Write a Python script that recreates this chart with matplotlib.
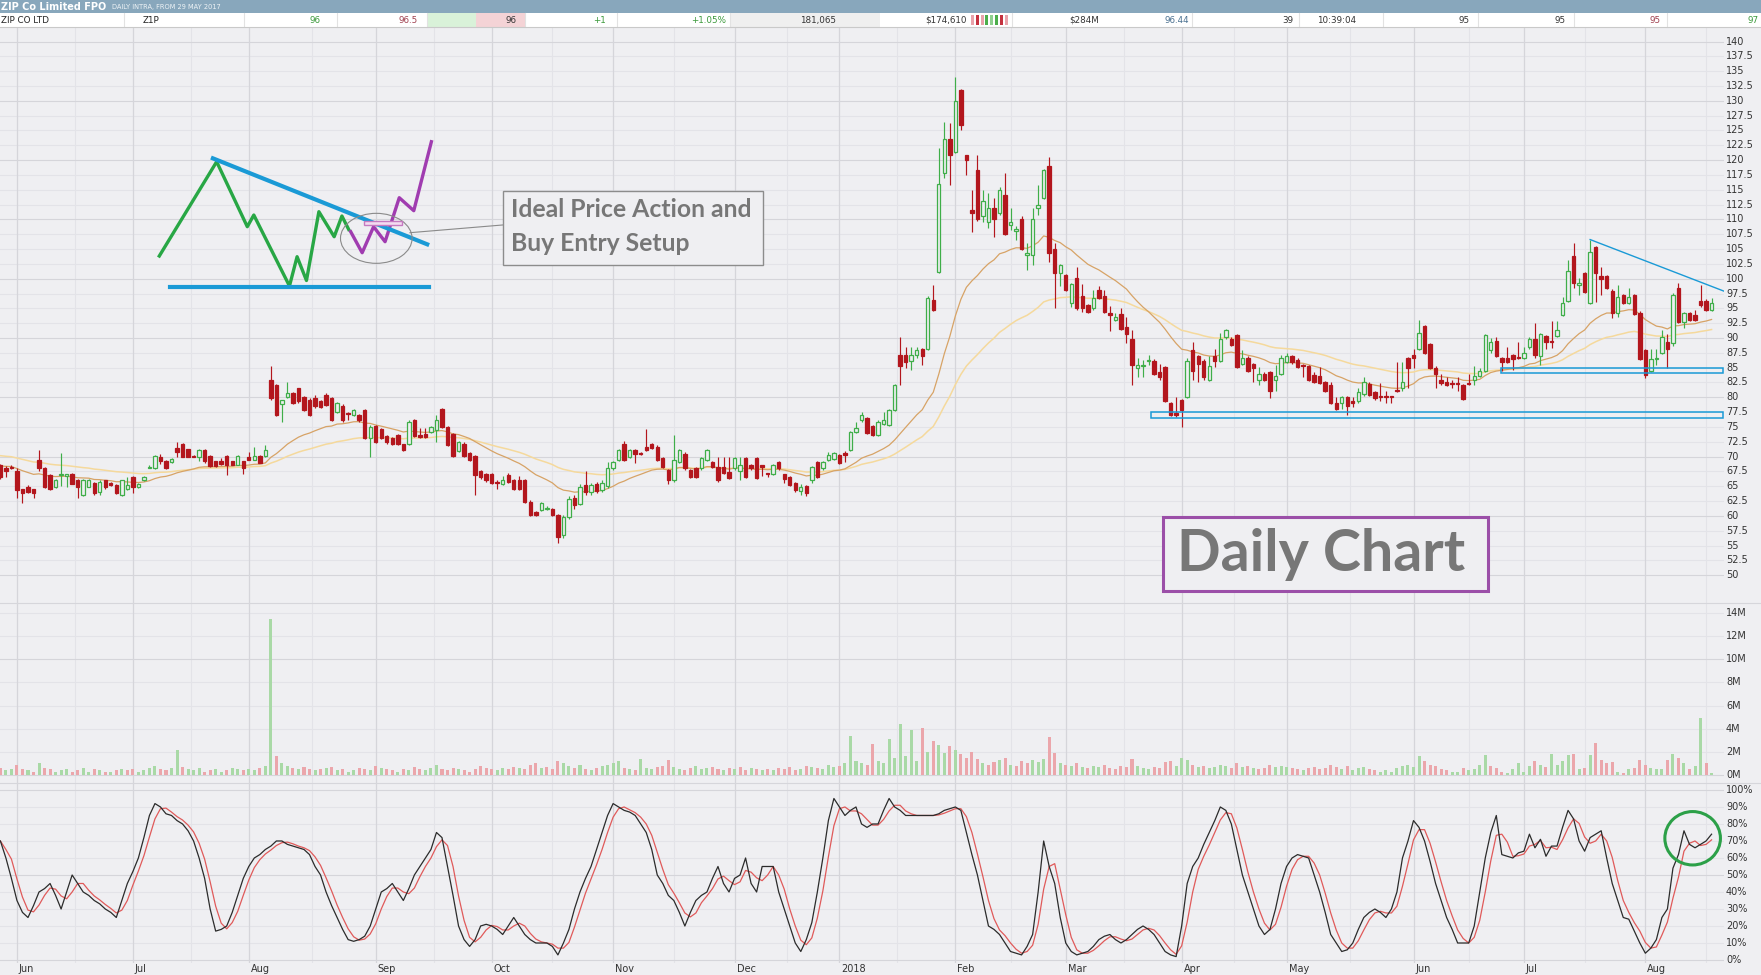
import matplotlib
matplotlib.use("Agg")
import matplotlib.pyplot as plt
import matplotlib.transforms as mtransforms
from matplotlib.patches import Rectangle, Ellipse
import numpy as np
import pandas as pd

W, H, DPI = 1761, 975, 100
BG = "#efeff2"

# ---------------------------------------------------------------- data
opens = [
    68.6,68.0,68.2,67.6,64.5,64.9,64.5,69.5,68.0,66.9,
    64.9,66.9,66.8,67.0,66.0,63.5,64.9,65.6,64.0,66.0,
    65.6,65.2,63.5,64.5,66.6,64.9,66.0,68.0,68.0,69.9,
    69.2,69.1,71.4,72.1,71.2,70.1,70.0,71.1,70.1,69.2,
    69.3,70.1,69.2,68.6,69.2,70.0,69.5,70.1,70.1,83.0,
    82.1,78.9,80.1,80.7,81.5,80.1,79.6,79.8,79.3,80.4,
    79.8,77.6,78.5,77.4,77.0,77.0,77.9,73.1,75.2,74.6,
    73.5,73.1,73.6,72.1,72.1,76.1,73.7,73.8,74.2,74.5,
    78.0,75.0,73.8,71.0,72.2,70.6,70.1,67.5,67.0,67.0,
    65.8,65.4,66.9,66.0,66.0,66.0,62.4,60.7,61.0,61.2,
    61.1,60.2,56.8,59.8,63.0,62.0,65.2,64.0,65.4,64.3,
    65.0,68.0,69.4,72.1,70.0,71.1,70.6,71.7,72.1,71.7,
    69.7,67.7,66.1,69.1,70.5,67.7,68.0,68.0,69.4,69.1,
    68.3,68.3,67.4,68.0,67.5,69.7,68.5,69.7,68.5,67.2,
    67.1,69.1,67.0,66.5,65.5,64.2,65.0,66.1,69.1,68.0,
    69.4,69.6,70.3,70.6,71.1,74.2,76.1,76.5,75.1,73.6,
    75.5,75.3,77.9,87.1,87.1,86.1,87.1,88.1,88.1,96.4,
    101.2,117.8,123.5,121.4,131.9,120.9,111.6,118.4,110.6,109.6,
    112.0,111.0,114.1,109.1,108.0,110.0,104.0,104.0,112.0,113.6,
    119.0,105.0,101.0,100.6,95.9,100.1,97.0,95.6,95.0,98.1,
    97.1,94.2,93.0,94.0,91.9,89.9,85.0,85.2,86.1,86.2,
    84.2,85.1,79.0,77.4,79.5,80.1,88.0,86.9,86.2,83.0,
    87.0,86.2,90.1,89.9,90.5,85.6,86.7,85.6,83.0,84.0,
    84.2,83.0,83.9,86.0,87.0,86.3,85.4,85.2,83.8,83.6,
    82.5,82.1,79.0,79.0,80.0,79.3,79.4,80.5,82.2,80.9,
    80.2,80.1,80.1,81.3,81.5,86.6,87.1,88.1,92.0,89.0,
    84.9,83.0,82.6,82.3,82.3,82.1,82.4,82.9,83.6,84.5,
    88.0,89.5,86.6,86.6,87.1,86.7,86.6,88.4,89.9,87.0,
    90.3,89.4,90.3,93.9,96.3,103.9,98.9,101.0,95.9,105.4,
    100.5,100.5,98.0,94.3,97.3,95.9,97.3,94.3,87.9,84.5,
    86.4,87.5,89.3,89.1,98.4,92.7,94.2,93.9,96.3,96.3,94.8]

highs = [
    68.8,68.4,68.6,68.0,64.6,65.2,64.6,71.1,68.3,67.1,
    66.3,70.6,67.1,67.2,66.2,66.2,66.3,65.8,66.0,66.1,
    65.8,65.4,66.1,66.6,66.8,65.6,66.7,68.6,70.2,70.5,
    69.4,69.7,72.5,72.3,71.3,70.2,71.2,71.3,70.2,69.3,
    69.8,70.3,69.3,70.2,69.3,70.8,71.7,70.3,72.0,85.2,
    82.3,79.6,82.6,80.9,81.6,80.3,79.8,80.4,79.5,80.7,
    80.1,79.2,78.8,77.6,78.1,77.2,78.1,75.3,75.4,74.8,
    73.6,73.3,73.8,72.2,76.1,76.3,74.9,74.9,75.2,77.0,
    78.2,75.2,74.0,72.7,72.4,70.8,70.3,67.7,67.2,67.2,
    66.0,66.8,67.2,66.2,66.8,66.2,62.6,60.9,62.3,61.6,
    61.3,60.4,60.2,63.3,63.6,65.3,67.5,65.6,65.8,66.0,
    69.1,69.3,71.3,72.6,71.3,71.3,70.8,74.6,72.3,71.9,
    69.9,67.9,73.6,71.3,70.7,67.9,68.2,69.9,71.3,69.3,
    70.0,70.0,70.0,69.9,70.0,69.9,68.7,69.9,68.6,67.3,
    68.7,69.3,67.1,66.8,65.8,65.3,65.2,68.4,69.3,69.3,
    70.8,70.8,70.5,71.0,74.4,75.9,77.6,76.7,75.3,76.1,
    77.6,78.1,82.3,90.1,88.5,88.5,88.4,88.3,97.0,99.0,
    122.0,126.5,126.2,134.1,132.0,120.9,115.0,120.9,115.0,114.4,
    113.6,115.5,117.9,112.0,108.9,110.5,106.0,112.0,115.8,118.5,
    120.5,106.0,102.5,100.8,99.3,102.0,99.1,95.8,98.1,98.7,
    98.1,95.4,94.2,95.0,93.6,91.4,86.6,86.3,87.1,86.4,
    85.7,85.3,79.2,80.0,79.7,86.6,89.4,87.1,86.4,87.0,
    88.1,90.9,91.5,90.1,90.7,88.0,86.9,85.8,85.1,84.2,
    84.4,85.5,87.1,87.5,87.2,86.6,85.6,85.4,84.2,85.1,
    82.7,82.6,80.1,80.2,80.2,80.0,81.5,83.5,82.6,81.1,
    82.4,81.0,80.2,86.0,86.0,86.8,88.1,93.0,92.2,89.2,
    85.2,84.0,83.5,83.0,83.5,82.3,84.0,85.2,84.9,90.7,
    90.0,90.1,86.8,88.5,87.3,89.4,88.5,90.1,92.5,90.9,
    90.5,92.9,92.9,96.9,103.2,106.0,100.2,101.2,106.6,105.6,
    101.9,100.7,98.2,98.9,97.5,98.5,97.5,94.5,88.1,88.1,
    88.1,91.3,90.7,97.6,99.3,94.4,94.4,94.8,98.9,96.5,96.7]

lows = [
    66.3,66.6,67.9,63.0,62.1,63.9,63.0,67.5,64.7,64.3,
    64.7,65.0,64.9,65.3,63.0,63.4,64.8,63.6,63.6,64.6,
    65.0,63.7,63.4,64.4,63.9,64.7,65.9,68.0,67.9,68.8,
    67.9,69.0,70.0,69.9,69.9,69.9,69.2,69.0,68.2,68.3,
    68.5,66.9,68.5,68.5,67.0,69.4,69.4,68.9,70.0,79.6,
    76.8,75.9,79.9,78.8,79.1,77.7,76.9,78.2,78.2,78.5,
    76.0,77.3,75.9,76.1,76.8,75.9,72.9,70.0,72.3,72.9,
    72.2,72.0,72.0,70.9,71.9,73.3,73.1,73.1,74.0,72.5,
    74.8,71.8,69.9,70.8,69.9,69.3,63.5,66.3,65.8,65.3,
    64.6,65.2,65.6,64.3,64.3,62.2,60.0,60.0,60.9,61.0,
    60.0,55.5,56.2,59.5,61.2,61.8,63.6,63.5,63.9,64.0,
    64.7,67.8,69.2,69.2,69.8,68.9,70.3,70.9,71.2,69.2,
    68.1,65.3,65.8,68.9,67.8,66.4,66.4,67.8,69.2,68.1,
    65.8,67.0,66.2,67.8,66.0,66.4,67.8,66.2,66.8,66.5,
    66.9,67.8,65.6,65.0,64.0,63.5,63.3,65.5,66.4,67.8,
    69.2,69.4,68.7,69.1,70.9,74.0,75.9,73.8,73.5,73.4,
    75.3,75.1,77.7,82.1,84.9,84.6,86.7,85.4,87.9,94.5,
    101.0,117.0,115.8,121.2,125.1,117.5,107.9,109.8,109.6,108.5,
    107.1,110.8,107.3,108.2,106.5,104.8,101.5,102.3,110.7,113.4,
    102.9,95.0,98.7,97.9,95.3,94.8,94.4,94.2,94.8,96.5,
    94.2,91.1,92.8,91.3,89.1,82.1,83.5,83.5,85.5,83.8,
    82.9,79.2,76.8,76.7,75.0,79.9,82.9,82.6,82.9,82.8,
    85.1,86.0,89.9,88.6,84.9,85.4,84.3,82.6,82.1,82.7,
    79.8,81.0,83.7,85.8,85.7,84.9,83.5,82.8,82.4,82.2,
    80.9,78.8,77.9,78.1,77.0,78.4,79.0,80.3,80.2,79.6,
    79.4,79.0,79.0,80.9,81.0,81.5,84.9,87.9,87.3,84.7,
    81.5,82.1,81.9,81.5,81.0,79.5,82.1,82.1,83.4,84.3,
    87.4,86.8,84.4,85.8,84.6,86.4,86.4,88.2,86.6,85.5,
    88.2,88.3,90.1,93.7,96.1,98.5,97.2,97.6,95.7,96.0,
    97.2,98.2,93.3,93.6,95.7,95.7,93.9,86.3,83.3,84.3,
    85.5,87.3,84.9,88.6,92.5,91.7,92.9,92.9,95.3,94.6,94.6]

closes = [
    66.6,67.6,68.0,64.4,63.8,64.1,63.8,68.0,64.9,64.5,
    66.0,67.0,67.0,65.4,64.9,66.0,66.0,63.8,65.8,64.9,
    65.2,63.9,66.0,65.2,64.9,65.4,66.6,68.2,70.1,69.2,
    68.0,69.6,70.8,70.0,70.0,70.0,71.1,69.2,68.4,68.4,
    68.7,68.6,68.6,70.1,68.0,69.5,70.1,69.0,71.1,79.8,
    77.0,79.5,80.7,79.0,79.3,77.9,77.0,78.5,78.4,78.7,
    76.1,79.0,76.1,77.2,77.9,76.1,73.1,75.0,72.5,73.1,
    72.4,72.1,72.2,71.1,75.9,73.5,73.3,73.3,75.0,76.1,
    75.0,72.0,70.1,72.5,70.1,69.5,66.9,66.5,66.0,65.5,
    65.6,66.0,65.8,64.5,64.5,62.4,60.2,60.1,62.1,61.4,
    60.2,56.5,59.8,62.8,61.8,64.8,64.0,65.2,64.2,65.5,
    68.0,69.1,71.1,69.4,71.1,70.5,70.5,71.1,71.4,69.4,
    68.3,66.0,69.4,71.1,68.0,66.6,66.6,69.7,71.1,68.3,
    66.0,67.2,66.4,69.7,68.5,66.6,68.0,66.4,68.2,67.0,
    68.5,68.0,66.3,65.2,64.3,64.8,63.8,68.2,66.6,69.1,
    70.3,70.6,68.9,70.2,74.2,74.8,77.0,74.0,73.7,75.9,
    76.2,77.9,82.1,85.2,86.0,87.1,88.0,86.9,96.7,94.7,
    116.0,123.5,120.9,129.9,125.9,120.0,111.0,110.0,113.1,112.0,
    110.0,114.9,107.5,109.5,108.3,105.0,104.4,110.0,112.4,118.4,
    104.4,100.9,102.3,98.1,99.1,95.0,95.0,94.4,96.7,96.7,
    94.4,93.9,93.6,91.5,90.7,85.5,85.5,85.5,86.3,84.0,
    83.4,79.4,77.0,77.0,77.9,86.2,84.5,85.7,83.5,85.2,
    86.2,89.8,91.3,88.8,85.1,86.7,84.5,84.9,84.0,82.9,
    81.0,83.6,86.6,86.9,85.9,85.1,85.2,83.0,82.6,82.4,
    81.0,79.0,78.1,80.0,78.5,79.1,80.9,82.5,80.4,79.9,
    80.0,80.0,80.0,81.0,82.5,84.9,86.6,90.9,87.5,84.9,
    83.9,82.4,82.1,82.2,82.2,79.7,82.3,83.6,84.5,90.5,
    89.4,87.0,86.0,86.0,86.4,86.6,87.5,89.9,87.1,90.7,
    89.3,89.3,91.3,95.9,101.3,99.3,99.3,97.8,104.5,101.0,
    99.9,98.4,94.2,96.9,95.9,96.9,94.1,86.5,83.7,86.5,
    86.5,90.1,88.2,97.3,92.7,94.2,93.1,93.1,95.5,94.8,95.9]

volume_m = [
    0.6,0.4,0.5,0.9,0.5,0.4,0.3,1.0,0.6,0.5,0.3,0.4,0.5,0.3,0.4,0.6,0.3,0.5,0.4,0.3,0.3,0.4,0.5,0.4,
    0.5,0.3,0.4,0.6,0.8,0.5,0.4,0.6,2.2,0.7,0.5,0.4,0.6,0.3,0.4,0.5,0.3,0.4,0.6,0.5,0.4,
    0.5,0.4,0.6,0.8,13.5,1.6,1.0,0.8,0.6,0.5,0.7,0.5,0.4,0.5,0.6,0.7,0.4,0.5,0.3,0.4,0.6,0.5,0.4,
    0.8,0.6,0.5,0.4,0.3,0.5,0.4,0.7,0.5,0.4,0.6,0.9,0.5,0.4,0.6,0.5,0.4,0.3,0.5,0.8,0.6,
    0.5,0.4,0.6,0.5,0.7,0.6,0.5,0.9,1.0,0.6,0.7,0.5,1.2,1.0,0.8,0.6,0.9,0.5,0.4,0.6,0.8,0.9,
    1.0,1.2,0.6,0.5,0.4,1.4,0.6,0.5,0.7,0.8,1.3,0.7,0.5,0.4,0.6,0.8,0.5,0.6,0.7,0.5,0.4,0.6,
    0.5,0.7,0.4,0.6,0.5,0.4,0.5,0.4,0.6,0.5,0.7,0.4,0.5,0.8,0.7,0.6,0.5,0.9,0.7,
    0.8,1.0,3.4,1.2,1.0,0.9,2.7,1.2,1.0,3.1,1.5,4.4,1.6,3.9,1.2,4.1,2.0,2.9,2.6,1.9,2.5,
    2.2,1.8,1.5,2.0,1.4,1.0,0.9,1.1,1.3,1.5,0.9,0.8,1.2,1.0,1.3,1.1,1.4,3.3,1.9,1.0,
    0.9,0.8,1.0,0.7,0.6,0.8,0.7,0.9,0.6,0.5,0.8,0.7,1.4,0.8,0.6,0.5,0.7,0.6,1.1,1.2,0.8,
    1.5,1.3,0.9,0.7,0.8,0.6,0.7,0.9,0.8,0.6,1.0,0.7,0.8,0.6,0.5,0.6,0.9,0.7,0.8,
    0.7,0.6,0.5,0.4,0.6,0.7,0.5,0.6,0.9,0.7,0.5,0.8,0.4,0.6,0.7,0.5,0.4,0.3,0.4,0.3,0.6,0.8,0.9,
    0.7,1.6,1.2,0.9,0.8,0.5,0.4,0.3,0.3,0.6,0.4,0.5,0.9,1.7,0.8,0.6,0.3,0.2,0.5,1.0,
    0.3,0.8,1.2,0.9,0.7,1.8,0.9,1.2,1.7,1.8,0.5,0.6,1.7,2.8,1.3,1.0,1.1,0.3,0.2,0.5,0.6,1.3,
    0.9,0.6,0.5,0.5,1.3,1.8,1.5,1.0,0.5,0.8,4.9,1.0,0.2]

stoch_k = [
    70,60,48,35,28,25,32,40,42,45,
    38,30,40,50,45,40,38,35,33,30,
    28,25,35,45,52,60,72,85,92,90,
    86,85,82,80,76,70,60,48,30,17,
    18,20,28,38,48,55,60,62,65,67,
    70,70,68,67,66,65,62,55,50,40,
    32,25,18,12,11,12,14,20,30,40,
    42,45,40,35,42,50,55,60,65,75,
    72,55,38,20,12,8,12,20,21,20,
    18,15,20,25,20,15,12,10,10,10,
    8,3,10,18,30,40,48,55,65,75,
    85,92,90,88,87,85,80,75,65,50,
    45,38,35,28,20,28,35,38,40,48,
    55,45,40,48,50,60,45,40,55,55,
    55,40,30,20,10,5,12,22,40,60,
    82,95,90,85,88,90,80,78,80,80,
    88,95,90,88,85,85,85,85,85,85,
    86,88,89,90,88,75,62,50,35,20,
    18,15,10,5,4,3,8,15,40,70,
    55,45,25,10,5,3,4,5,8,12,
    14,15,12,10,12,15,18,20,18,15,
    10,5,3,2,20,45,55,60,68,75,
    82,90,88,80,65,50,40,30,20,15,
    18,30,45,55,60,62,61,60,50,40,
    28,15,10,5,6,10,18,25,28,30,
    28,25,30,40,60,70,82,78,70,58,
    45,35,25,18,10,10,10,20,40,60,
    75,85,62,61,60,63,64,74,66,71,
    61,67,67,78,88,83,70,64,72,74,
    76,60,45,35,25,24,17,10,4,7,
    12,25,30,54,62,76,68,66,68,70,74]

month_labels = ["Jun", "Jul", "Aug", "Sep", "Oct", "Nov", "Dec", "2018",
                "Feb", "Mar", "Apr", "May", "Jun", "Jul", "Aug"]
month_start = [3, 24, 45, 68, 89, 111, 133, 152, 173, 193, 214, 233, 256, 276, 298]

price_ticks = [50 + 2.5 * k for k in range(37)]
volume_ticks = [0, 2, 4, 6, 8, 10, 12, 14]
stoch_ticks = [0, 10, 20, 30, 40, 50, 60, 70, 80, 90, 100]

# moving averages seeded with the values visible at the left edge
ma_fast_span, ma_fast_seed = 22, 68.6
ma_slow_span, ma_slow_seed = 50, 70.3

header_cells = [  # (x, text, color, align)
    (1, "ZIP CO LTD", "#222222", "left"),
    (143, "Z1P", "#222222", "left"),
    (321, "96", "#3c9a3c", "right"),
    (418, "96.5", "#a0404f", "right"),
    (516, "96", "#333333", "right"),
    (606, "+1", "#3c9a3c", "right"),
    (726, "+1.05%", "#3c9a3c", "right"),
    (836, "181,065", "#333333", "right"),
    (967, "$174,610", "#333333", "right"),
    (1099, "$284M", "#333333", "right"),
    (1189, "96.44", "#4a7090", "right"),
    (1293, "39", "#333333", "right"),
    (1317, "10:39:04", "#333333", "left"),
    (1470, "95", "#333333", "right"),
    (1566, "95", "#333333", "right"),
    (1661, "95", "#a0404f", "right"),
    (1759, "97", "#3c9a3c", "right"),
]

# ---------------------------------------------------------------- checks
n = len(closes)
assert len(opens) == n and len(highs) == n and len(lows) == n
assert len(volume_m) == n and len(stoch_k) == n

o = np.array(opens); h = np.array(highs); l = np.array(lows); c = np.array(closes)
idx = np.arange(n)


def ema(vals, span, seed):
    a = 2.0 / (span + 1)
    out, prev = [], seed
    for v in vals:
        prev = prev + a * (v - prev)
        out.append(prev)
    return np.array(out)


ma_fast = ema(closes, ma_fast_span, ma_fast_seed)
ma_slow = ema(closes, ma_slow_span, ma_slow_seed)
stoch_d = pd.Series(stoch_k, dtype=float).rolling(3, min_periods=1).mean().values

# ---------------------------------------------------------------- figure
fig = plt.figure(figsize=(W / DPI, H / DPI), dpi=DPI, facecolor=BG)


def px_axes(x0, y0, x1, y1):
    return [x0 / W, 1 - y1 / H, (x1 - x0) / W, (y1 - y0) / H]


PLOT_R = 1724
ax_p = fig.add_axes(px_axes(0, 28, PLOT_R, 603))
ax_v = fig.add_axes(px_axes(0, 603, PLOT_R, 783))
ax_s = fig.add_axes(px_axes(0, 783, PLOT_R, 963))
XL = (-0.07, 312.25)
for ax in (ax_p, ax_v, ax_s):
    ax.set_facecolor(BG)
    ax.set_xlim(*XL)
    for sp in ax.spines.values():
        sp.set_visible(False)
    ax.set_xticks([])
    ax.set_yticks([])
ax_p.set_ylim(45.31, 142.28)
ax_v.set_ylim(-0.69, 14.86)
ax_s.set_ylim(-1.76, 104.1)

G_MAJ, G_MIN = "#d5d5da", "#e3e3e8"
mids = [(a + b) / 2 for a, b in zip(month_start[:-1], month_start[1:])] + [month_start[-1] + 11]
for ax in (ax_p, ax_v, ax_s):
    for m in mids:
        ax.axvline(m, color=G_MIN, lw=0.8, zorder=0.4)
    for m in month_start:
        ax.axvline(m, color=G_MAJ, lw=0.9, zorder=0.5)
for v in price_ticks:
    ax_p.axhline(v, color=G_MAJ if v % 10 == 0 else G_MIN, lw=0.8, zorder=0.4)
for v in volume_ticks:
    ax_v.axhline(v, color=G_MAJ if v in (0, 10) else G_MIN, lw=0.8, zorder=0.4)
for v in stoch_ticks:
    ax_s.axhline(v, color=G_MAJ if v in (0, 50, 100) else G_MIN, lw=0.8, zorder=0.4)

# ---------------------------------------------------------------- candles
GREEN, RED = "#3fae49", "#b3161d"
up = c >= o
cols = np.where(up, GREEN, RED)
ax_p.vlines(idx, l, h, colors=cols, lw=0.85, zorder=3)
bottoms = np.minimum(o, c)
heights = np.maximum(np.abs(c - o), 0.18)
ax_p.bar(idx, heights, bottom=bottoms, width=0.62,
         color=np.where(up, BG, RED), edgecolor=cols, linewidth=0.9, zorder=4)

ax_p.plot(idx, ma_slow, color="#f5d99c", lw=1.1, zorder=2.5)
ax_p.plot(idx, ma_fast, color="#d7a366", lw=0.9, zorder=2.6)

# ---------------------------------------------------------------- volume
prev_c = np.concatenate([[o[0]], c[:-1]])
vcols = np.where(c >= prev_c, "#a9d9a6", "#eba6ab")
ax_v.bar(idx, volume_m, width=0.55, color=vcols, zorder=3)

# ---------------------------------------------------------------- stochastic
ax_s.plot(idx, stoch_d, color="#e05a5a", lw=0.9, zorder=3)
ax_s.plot(idx, stoch_k, color="#2b2b2b", lw=0.9, zorder=4)
ax_s.add_patch(Ellipse((306.57, 71.6), 10.07, 31.4, fill=False,
                       edgecolor="#2ca048", lw=2.2, zorder=6))

# ---------------------------------------------------------------- tick labels
TK = dict(fontsize=7, color="#333333", family="DejaVu Sans", ha="left", va="center")
lx = 1 + 2.0 / PLOT_R
for ax, ticks, fmt in ((ax_p, price_ticks, lambda v: f"{v:g}"),
                       (ax_v, volume_ticks, lambda v: f"{v}M"),
                       (ax_s, stoch_ticks, lambda v: f"{v}%")):
    tr = mtransforms.blended_transform_factory(ax.transAxes, ax.transData)
    for v in ticks:
        ax.text(lx, v, fmt(v), transform=tr, clip_on=False, **TK)

trx = mtransforms.blended_transform_factory(ax_s.transData, fig.transFigure)
for m, lab in zip(month_start, month_labels):
    ax_s.text(m + 0.36, 1 - 968.5 / H, lab, transform=trx, fontsize=7,
              color="#333333", family="DejaVu Sans", ha="left", va="center", clip_on=False)

# ---------------------------------------------------------------- annotations on price panel
BLUE = "#1a9ad6"
ax_p.add_patch(Rectangle((208.4, 76.5), 312.0 - 208.4, 1.1, fill=False,
                         edgecolor=BLUE, lw=1.1, zorder=5))
ax_p.add_patch(Rectangle((271.9, 84.1), 312.0 - 271.9, 0.8, fill=False,
                         edgecolor=BLUE, lw=1.1, zorder=5))
ax_p.plot([288.0, 312.25], [106.6, 97.9], color=BLUE, lw=1.0, zorder=5)

green_x = [28.79, 39.18, 44.73, 45.91, 52.37, 53.75, 55.45, 57.70, 60.47, 61.87, 63.1]
green_y = [103.83, 119.73, 108.77, 110.74, 98.77, 103.71, 99.70, 111.30, 107.08, 110.57, 108.3]
ax_p.plot(green_x, green_y, color="#28a745", lw=2.4, zorder=6)
purple_x = [63.46, 65.54, 67.61, 69.69, 72.26, 74.89, 78.08]
purple_y = [107.93, 104.38, 108.77, 106.24, 113.66, 111.47, 123.10]
ax_p.plot(purple_x, purple_y, color="#a03cb0", lw=2.4, zorder=6)
ax_p.plot([38.50, 77.32], [120.30, 105.80], color=BLUE, lw=3.0, zorder=6.5)
ax_p.plot([30.65, 77.64], [98.52, 98.52], color=BLUE, lw=3.0, zorder=6.5)
ax_p.add_patch(Ellipse((68.1, 106.81), 12.97, 8.43, fill=False,
                       edgecolor="#8a8a8a", lw=0.8, zorder=7))
ax_p.add_patch(Rectangle((65.87, 109.06), 6.94, 0.72, facecolor="#f4dcf1",
                         edgecolor="#c57ac0", lw=1.0, zorder=7))
ax_p.plot([74.2, 90.98], [107.76, 109.06], color="#8a8a8a", lw=0.8, zorder=7)
ax_p.add_patch(Rectangle((90.98, 102.31), 47.23, 12.53, facecolor=BG,
                         edgecolor="#8c8c8c", lw=1.0, zorder=7))

ax_p.add_patch(Rectangle((210.56, 47.34), 58.98, 12.42, facecolor=BG,
                         edgecolor="#9b4fa8", lw=2.2, zorder=7))

renderer = fig.canvas.get_renderer()


def fit_text(x, y, s, target_px, size0=20, **kw):
    t = ax_p.text(x, y, s, fontsize=size0, **kw)
    w = t.get_window_extent(renderer=renderer).width
    t.set_fontsize(size0 * target_px / w)
    return t


FONT = dict(family=["Lato", "DejaVu Sans"], weight="bold", color="#777777",
            va="baseline", ha="left", zorder=8)
t1 = fit_text(92.45, 110.35, "Ideal Price Action and", 241, **FONT)
ax_p.text(92.45, 104.72, "Buy Entry Setup", fontsize=t1.get_fontsize(), **FONT)
fit_text(213.2, 50.71, "Daily Chart", 288, size0=40, **FONT)

# ---------------------------------------------------------------- header & overlay
ov = fig.add_axes([0, 0, 1, 1], zorder=10)
ov.set_xlim(0, W)
ov.set_ylim(H, 0)
ov.axis("off")
ov.add_patch(Rectangle((0, 0), W, 13, facecolor="#88a7bc", edgecolor="none"))
ov.add_patch(Rectangle((0, 13), W, 14, facecolor="#ffffff", edgecolor="none"))
ov.add_patch(Rectangle((427, 13), 49, 14, facecolor="#d9f2d9", edgecolor="none"))
ov.add_patch(Rectangle((476, 13), 49, 14, facecolor="#f4d3d6", edgecolor="none"))
ov.add_patch(Rectangle((730, 13), 150, 14, facecolor="#efefef", edgecolor="none"))
for xs in (124, 244, 337, 427, 525, 617, 730, 1012, 1192, 1299, 1383, 1478, 1574, 1667):
    ov.plot([xs, xs], [13, 27], color="#e2e2e2", lw=0.8)
ov.plot([0, W], [27, 27], color="#c9c9c9", lw=0.8)
mini = ["#e9a3ab", "#c4323f", "#e9a3ab", "#4cae4c", "#8fd08f", "#4cae4c", "#c4323f", "#e9a3ab"]
for k, mc in enumerate(mini):
    ov.add_patch(Rectangle((971 + 4.8 * k, 15), 3, 10, facecolor=mc, edgecolor="none"))
ov.text(1, 6.8, "ZIP Co Limited FPO", color="white", fontsize=7, weight="bold",
        family="DejaVu Sans", ha="left", va="center")
ov.text(112, 7.3, "DAILY INTRA, FROM 29 MAY 2017", color="#eef3f6", fontsize=4.8,
        family="DejaVu Sans", ha="left", va="center")
for x, s, col, al in header_cells:
    ov.text(x, 20.3, s, color=col, fontsize=6.3, family="DejaVu Sans", ha=al, va="center")
ov.plot([0, W], [603, 603], color="#d6d6db", lw=0.8)
ov.plot([0, W], [783, 783], color="#d6d6db", lw=0.8)

fig.savefig("out.png", dpi=DPI, facecolor=BG)
